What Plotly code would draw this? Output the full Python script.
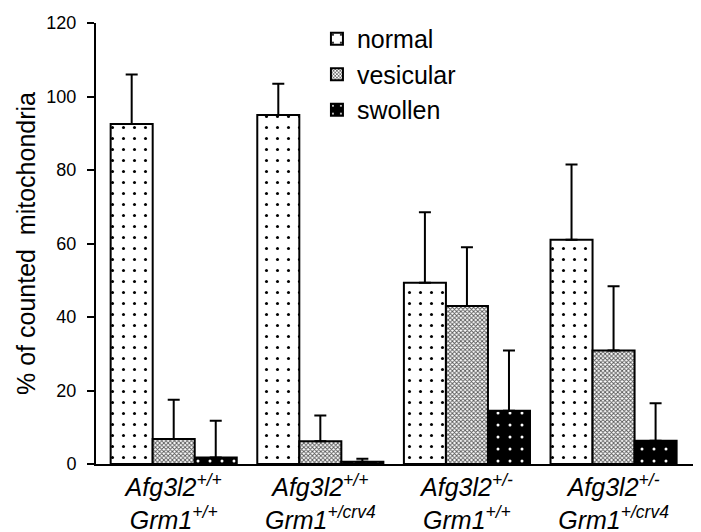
import plotly.graph_objects as go

categories = ["g1", "g2", "g3", "g4"]
tick_labels = [
    "<i>Afg3l2<sup>+/+</sup></i><br><i>Grm1<sup>+/+</sup></i>",
    "<i>Afg3l2<sup>+/+</sup></i><br><i>Grm1<sup>+/crv4</sup></i>",
    "<i>Afg3l2<sup>+/-</sup></i><br><i>Grm1<sup>+/+</sup></i>",
    "<i>Afg3l2<sup>+/-</sup></i><br><i>Grm1<sup>+/crv4</sup></i>",
]
series_names = ["normal", "vesicular", "swollen"]
normal = [92.5, 95.0, 49.3, 61.0]
normal_err_top = [106.0, 103.5, 68.5, 81.5]
vesicular = [6.8, 6.2, 43.0, 30.9]
vesicular_err_top = [17.5, 13.2, 59.0, 48.4]
swollen = [1.8, 0.6, 14.5, 6.3]
swollen_err_top = [11.8, 1.4, 30.9, 16.5]

FONT = "Arial, Liberation Sans, sans-serif"

styles = {
    "normal": dict(color="white", pattern=dict(shape=".", fgcolor="black", bgcolor="white",
                                              size=11, solidity=0.06, fillmode="replace")),
    "vesicular": dict(color="white", pattern=dict(shape="x", fgcolor="#555555", bgcolor="white",
                                                 size=3, solidity=0.5, fillmode="replace")),
    "swollen": dict(color="black", pattern=dict(shape=".", fgcolor="white", bgcolor="black",
                                               size=12, solidity=0.05, fillmode="replace")),
}

fig = go.Figure()
for i, (name, vals, tops) in enumerate(zip(series_names,
                                          [normal, vesicular, swollen],
                                          [normal_err_top, vesicular_err_top, swollen_err_top])):
    st = styles[name]
    fig.add_trace(go.Bar(
        x=categories, y=vals, name=name, legendgroup=name,
        marker=dict(color=st["color"], pattern=st["pattern"],
                    line=dict(color="black", width=2)),
        error_y=dict(type="data", symmetric=False,
                     array=[t - v for t, v in zip(tops, vals)],
                     arrayminus=[0] * len(vals),
                     color="black", thickness=2, width=6),
    ))

fig.update_layout(
    width=701, height=532,
    margin=dict(l=88, r=6, t=15, b=76),
    plot_bgcolor="white", paper_bgcolor="white",
    barmode="group", bargap=0.14, bargroupgap=0,
    font=dict(family=FONT, color="black"),
    showlegend=True,
    legend=dict(x=0.364, y=1.016, xanchor="left", yanchor="top",
                font=dict(size=25, family=FONT), tracegroupgap=0,
                bgcolor="rgba(0,0,0,0)", itemwidth=30),
)
fig.update_xaxes(
    tickvals=categories, ticktext=tick_labels,
    range=[-0.53, 3.61], automargin=False,
    showline=True, linecolor="black", linewidth=2,
    ticks="", tickfont=dict(size=25, family=FONT),
    showgrid=False, zeroline=False,
)
fig.update_yaxes(
    range=[0, 120], tickvals=[0, 20, 40, 60, 80, 100, 120], automargin=False,
    showline=True, linecolor="black", linewidth=2,
    ticks="outside", ticklen=7, tickwidth=2, tickcolor="black",
    tickfont=dict(size=18, family=FONT), ticklabelstandoff=7,
    showgrid=False, zeroline=False,
    title=dict(text="% of counted  mitochondria", font=dict(size=25, family=FONT), standoff=4),
)

fig.write_html("out.html")
